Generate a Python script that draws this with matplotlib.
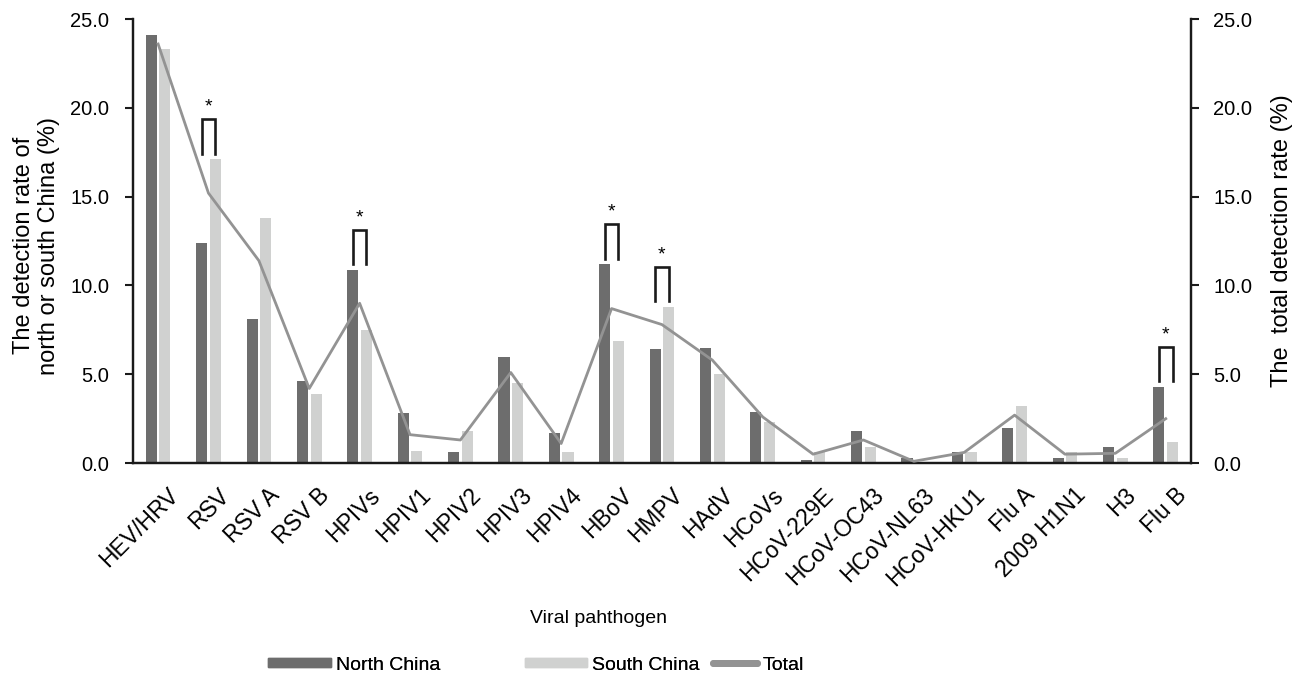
import numpy as np
import matplotlib
matplotlib.use("Agg")
import matplotlib.pyplot as plt
from matplotlib.lines import Line2D
from matplotlib.patches import Patch
import matplotlib.transforms as mtransforms

plt.rcParams['font.family'] = ['Liberation Sans', 'DejaVu Sans']

# данные
pathogens = ["HEV/HRV", "RSV", "RSV A", "RSV B", "HPIVs", "HPIV1", "HPIV2", "HPIV3",
             "HPIV4", "HBoV", "HMPV", "HAdV", "HCoVs", "HCoV-229E", "HCoV-OC43",
             "HCoV-NL63", "HCoV-HKU1", "Flu A", "2009 H1N1", "H3", "Flu B"]
north = [24.1, 12.4, 8.1, 4.6, 10.9, 2.8, 0.6, 6.0, 1.7, 11.2, 6.4, 6.5, 2.9,
         0.2, 1.8, 0.3, 0.6, 2.0, 0.3, 0.9, 4.3]
south = [23.3, 17.1, 13.8, 3.9, 7.5, 0.7, 1.8, 4.5, 0.6, 6.9, 8.8, 5.0, 2.3,
         0.6, 0.9, 0.05, 0.6, 3.2, 0.6, 0.3, 1.2]
total = [23.6, 15.2, 11.4, 4.2, 9.0, 1.6, 1.3, 5.1, 1.1, 8.7, 7.8, 5.8, 2.6,
         0.5, 1.3, 0.1, 0.6, 2.7, 0.5, 0.55, 2.5]
significant = ["RSV", "HPIVs", "HBoV", "HMPV", "Flu B"]

n = len(pathogens)
x = np.arange(n)

dark = '#6d6d6d'
light = '#d0d1d0'
line_c = '#939393'

fig = plt.figure(figsize=(13.03, 6.83), dpi=100)
ax = fig.add_axes([0.102, 0.322, 0.812, 0.650])
ax2 = ax.twinx()

w = 0.22
off = 0.135
ax.bar(x - off, north, width=w, color=dark, zorder=2)
ax.bar(x + off, south, width=w, color=light, zorder=2)
ax2.plot(x, total, color=line_c, lw=2, zorder=3)

# скобки значимости
for name in significant:
    i = pathogens.index(name)
    bottom = max(north[i], south[i]) + 0.3
    top = bottom + 1.95
    ax.plot([i - off, i - off, i + off, i + off], [bottom, top, top, bottom],
            color='#1a1a1a', lw=1.9, solid_joinstyle='miter', zorder=4)
    ax.text(i, top + 0.2, '*', ha='center', va='bottom', fontsize=14)

for a, p in ((ax, 11), (ax2, 10)):
    a.set_ylim(0, 25)
    a.set_yticks(np.arange(0, 25.1, 5))
    a.set_yticklabels([f"{v:.1f}" for v in np.arange(0, 25.1, 5)], fontsize=14.5)
    a.spines['top'].set_visible(False)
    for s in ('left', 'right', 'bottom'):
        a.spines[s].set_linewidth(1.6)
        a.spines[s].set_color('#1a1a1a')
    a.tick_params(axis='y', length=6, width=1.5, color='#1a1a1a', pad=p)
ax.set_xlim(-0.5, n - 0.5)

ax.set_xticks(x)
ax.set_xticklabels(pathogens, rotation=45, ha='right', rotation_mode='anchor', fontsize=16.5)
ax.tick_params(axis='x', length=0, pad=15)
shift = mtransforms.ScaledTranslation(0.09, 0, fig.dpi_scale_trans)
for lbl in ax.get_xticklabels():
    lbl.set_transform(lbl.get_transform() + shift)

ax.set_ylabel("The detection rate of\nnorth or south China (%)", fontsize=17)
ax.yaxis.set_label_coords(-0.069, 0.49)
ax2.set_ylabel("The  total detection rate (%)", fontsize=17)
ax2.yaxis.set_label_coords(1.076, 0.5)

fig.text(0.459, 0.095, "Viral pahthogen", ha='center', va='center', fontsize=14)

# легенда: три отдельных элемента
items = [
    (Patch(color=dark), "North China", 0.206, 3.2, 0.36),
    (Patch(color=light), "South China", 0.403, 3.2, 0.36),
    (Line2D([], [], color=line_c, lw=5, solid_capstyle='round'), "Total", 0.547, 2.3, 0.7),
]
for h, lab, xpos, hl, hh in items:
    leg = fig.legend([h], [lab], loc='center left', bbox_to_anchor=(xpos, 0.026),
                     frameon=False, fontsize=14, handlelength=hl, handleheight=hh,
                     handletextpad=0.25, borderpad=0, borderaxespad=0)
    fig.add_artist(leg)

fig.savefig("out.png", dpi=100)
